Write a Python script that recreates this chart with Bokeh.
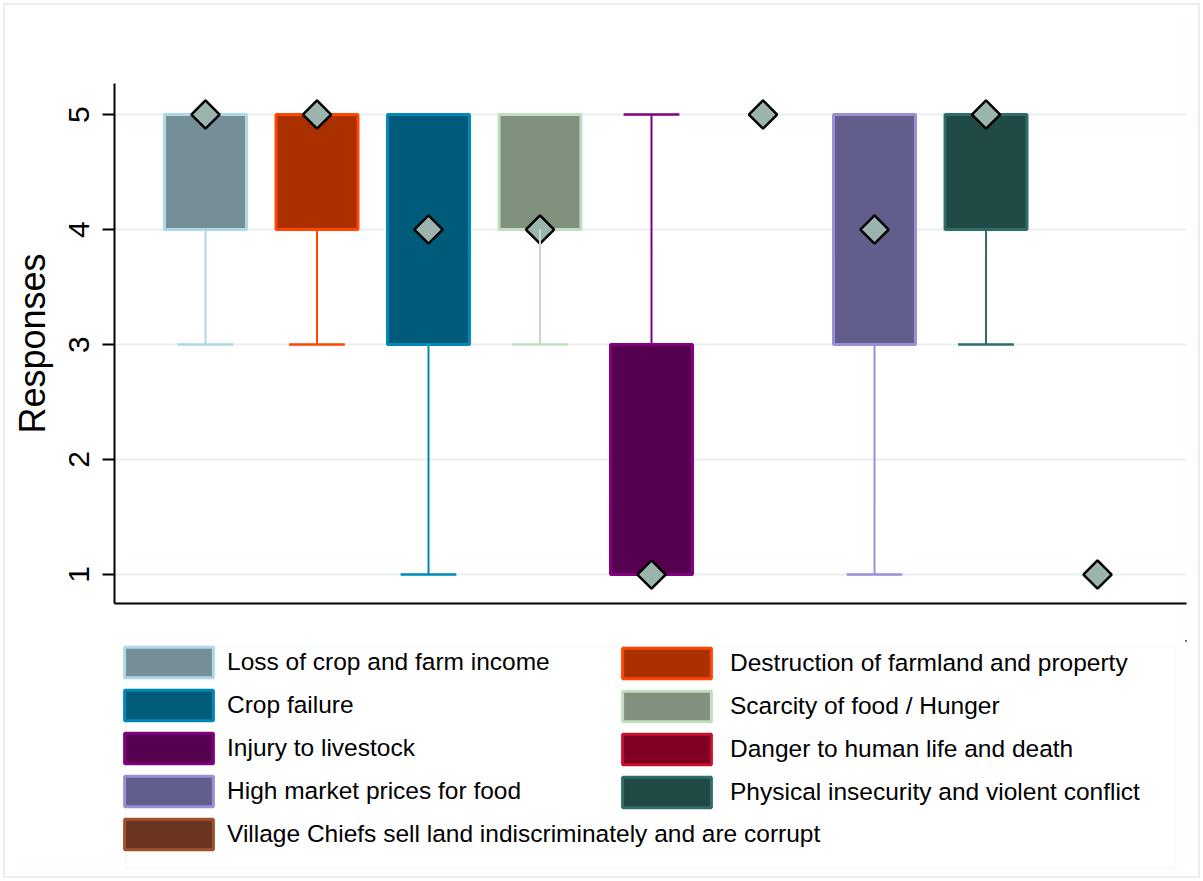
from bokeh.plotting import figure
from bokeh.layouts import column
from bokeh.models import (ColumnDataSource, Legend, LegendItem, FixedTicker, Range1d,
                          BoxAnnotation)
from bokeh.embed import file_html
from bokeh.resources import INLINE
import numpy as np

# ---------------- data ----------------
categories = [
    "Loss of crop and farm income",
    "Destruction of farmland and property",
    "Crop failure",
    "Scarcity of food / Hunger",
    "Injury to livestock",
    "Danger to human life and death",
    "High market prices for food",
    "Physical insecurity and violent conflict",
    "Village Chiefs sell land indiscriminately and are corrupt",
]
q1 = [4, 4, 3, 4, 1, 5, 3, 4, 1]
q3 = [5, 5, 5, 5, 3, 5, 5, 5, 1]
median = [5, 5, 4, 4, 1, 5, 4, 5, 1]
lower = [3, 3, 1, 3, 1, 5, 1, 3, 1]
upper = [5, 5, 5, 5, 5, 5, 5, 5, 1]
fill_colors = ["#748f98", "#ab3000", "#005a7a", "#80927e", "#560050",
               "#7f0022", "#625e8b", "#204a46", "#6b3522"]
line_colors = ["#add8e6", "#ff4500", "#0088b8", "#c1dec1", "#800080",
               "#c8102e", "#9b8fd5", "#2f6e66", "#a0522d"]
y_ticks = [1, 2, 3, 4, 5]

FONT = "Liberation Sans"
FRAME_COLOR = "#e3ecef"

x = list(range(1, len(categories) + 1))

# ---------------- main chart ----------------
p = figure(frame_width=1072, frame_height=520,
           min_border_left=114, min_border_right=17,
           min_border_top=83, min_border_bottom=27,
           x_range=Range1d(0.184, 9.798), y_range=Range1d(0.748, 5.27),
           output_backend="svg", toolbar_location=None,
           background_fill_color="white", border_fill_alpha=0)
p.outline_line_color = None

p.xaxis.ticker = FixedTicker(ticks=[])
p.xaxis.axis_line_width = 2
p.xaxis.axis_line_color = "black"
p.xaxis.major_label_text_alpha = 0
p.xgrid.visible = False

p.yaxis.ticker = FixedTicker(ticks=y_ticks)
p.yaxis.major_label_orientation = "vertical"
p.yaxis.major_label_text_font = FONT
p.yaxis.major_label_text_font_size = "30px"
p.yaxis.major_label_text_color = "black"
p.yaxis.major_label_standoff = 13
p.yaxis.major_tick_out = 12
p.yaxis.major_tick_in = 0
p.yaxis.major_tick_line_width = 2
p.yaxis.minor_tick_line_color = None
p.yaxis.axis_line_width = 2
p.yaxis.axis_line_color = "black"
p.yaxis.axis_label = "Responses"
p.yaxis.axis_label_text_font = FONT
p.yaxis.axis_label_text_font_size = "36px"
p.yaxis.axis_label_text_font_style = "normal"
p.yaxis.axis_label_text_color = "black"
p.yaxis.axis_label_standoff = 14
p.ygrid.ticker = FixedTicker(ticks=y_ticks)
p.ygrid.grid_line_color = "#e8f0f2"
p.ygrid.grid_line_width = 2

BOX_W = 0.735
CAP_W = 0.50

has_box = [q3[i] > q1[i] for i in range(len(categories))]
box_src = ColumnDataSource(dict(
    x=[x[i] for i in range(len(x)) if has_box[i]],
    top=[q3[i] for i in range(len(x)) if has_box[i]],
    bottom=[q1[i] for i in range(len(x)) if has_box[i]],
    fc=[fill_colors[i] for i in range(len(x)) if has_box[i]],
    lc=[line_colors[i] for i in range(len(x)) if has_box[i]],
))
p.vbar(x="x", top="top", bottom="bottom", width=BOX_W, source=box_src,
       fill_color="fc", line_color="lc", line_width=3)

med_src = ColumnDataSource(dict(x=x, y=median))
p.scatter(x="x", y="y", source=med_src, marker="square", size=20,
          angle=np.pi / 4, fill_color="#9bb5ae", line_color="black",
          line_width=2.5)

wx0, wy0, wy1, wc = [], [], [], []
for i in range(len(categories)):
    if lower[i] < q1[i]:
        wx0.append(x[i]); wy0.append(q1[i]); wy1.append(lower[i]); wc.append(line_colors[i])
    if upper[i] > q3[i]:
        wx0.append(x[i]); wy0.append(q3[i]); wy1.append(upper[i]); wc.append(line_colors[i])
wsrc = ColumnDataSource(dict(x=wx0, y0=wy0, y1=wy1, c=wc,
                             xl=[v - CAP_W / 2 for v in wx0],
                             xr=[v + CAP_W / 2 for v in wx0]))
p.segment(x0="x", y0="y0", x1="x", y1="y1", source=wsrc, line_color="c",
          line_width=2)
p.segment(x0="xl", y0="y1", x1="xr", y1="y1", source=wsrc, line_color="c",
          line_width=2.5)

# ---------------- legend panel ----------------
lg = figure(frame_width=1072, frame_height=231,
            min_border_left=114, min_border_right=17,
            min_border_top=10, min_border_bottom=10,
            x_range=Range1d(-3, -2), y_range=Range1d(-3, -2),
            x_axis_location=None, y_axis_location=None,
            output_backend="svg", toolbar_location=None,
            background_fill_color="white", border_fill_alpha=0)
lg.xgrid.visible = False
lg.ygrid.visible = False
lg.outline_line_color = None

# legend box border
lg.add_layout(BoxAnnotation(left=125, right=1175, top=16, bottom=238,
                            left_units="canvas", right_units="canvas",
                            top_units="canvas", bottom_units="canvas",
                            fill_alpha=0, line_color=FRAME_COLOR, line_width=2))

# legend proxies (lie outside the visible range of the legend panel)
swatches = []
for i in range(len(categories)):
    s = ColumnDataSource(dict(x=[x[i]], top=[q3[i]], bottom=[q1[i]]))
    swatches.append(lg.vbar(x="x", top="top", bottom="bottom", width=BOX_W, source=s,
                            fill_color=fill_colors[i], line_color=line_colors[i],
                            line_width=3))

left_idx = [0, 2, 4, 6, 8]
right_idx = [1, 3, 5, 7]

def make_legend(idx, loc, standoff, spacing):
    return Legend(items=[LegendItem(label=categories[i], renderers=[swatches[i]])
                         for i in idx],
                  location=loc, orientation="vertical",
                  glyph_width=111, glyph_height=38, spacing=spacing,
                  label_standoff=standoff, label_text_font=FONT,
                  label_text_font_size="24.5px", label_text_color="black",
                  label_height=30, padding=0, margin=0,
                  border_line_color=None, background_fill_alpha=0)

lg.add_layout(make_legend(left_idx, (-1, 18), 3, 5))
lg.add_layout(make_legend(right_idx, (497, 60), 8, 5))

layout = column(p, lg, spacing=0,
                styles={"outline": "2px solid #e6eef0", "outline-offset": "-5px"})

open("out.html", "w").write(file_html(layout, INLINE))
